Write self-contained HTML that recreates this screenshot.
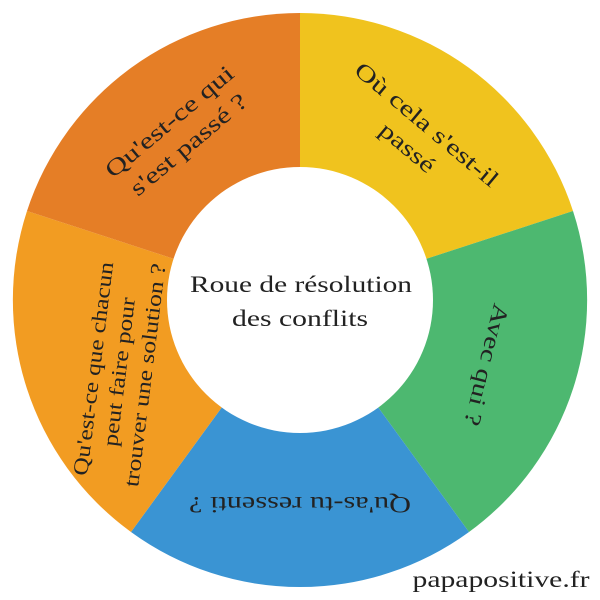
<!DOCTYPE html>
<html><head><meta charset="utf-8"><style>
html,body{margin:0;padding:0;background:#fff;}
svg{display:block}
text{font-family:"Liberation Serif","DejaVu Serif",serif;fill:#222;}
</style></head><body>
<svg width="600" height="600" viewBox="0 0 600 600" xmlns="http://www.w3.org/2000/svg">
<g>
<path d="M300,300 L300,13 A287,287 0 0 1 573,211 Z" fill="#F0C31E"/>
<path d="M300,300 L573,211 A287,287 0 0 1 469,532 Z" fill="#4DB870"/>
<path d="M300,300 L469,532 A287,287 0 0 1 131,532 Z" fill="#3A94D3"/>
<path d="M300,300 L131,532 A287,287 0 0 1 27,211 Z" fill="#F29C22"/>
<path d="M300,300 L27,211 A287,287 0 0 1 300,13 Z" fill="#E57E26"/>
<circle cx="300" cy="300" r="133" fill="#fff"/>
</g>
<g font-size="23" text-anchor="middle" lengthAdjust="spacingAndGlyphs">
<g transform="translate(178,132) rotate(-40)">
<text x="0" y="-6" textLength="160" lengthAdjust="spacingAndGlyphs">Qu'est-ce qui</text>
<text x="0" y="24" textLength="145" lengthAdjust="spacingAndGlyphs">s'est passé ?</text>
</g>
<g transform="translate(418,135) rotate(40)">
<text x="0" y="-6" textLength="180" lengthAdjust="spacingAndGlyphs">Où cela s'est-il</text>
<text x="0" y="24" textLength="65" lengthAdjust="spacingAndGlyphs">passé</text>
</g>
<g transform="translate(487,365) rotate(104)">
<text x="0" y="8" textLength="125" lengthAdjust="spacingAndGlyphs">Avec qui ?</text>
</g>
<g transform="translate(300,505) rotate(180)">
<text x="0" y="8" textLength="222" lengthAdjust="spacingAndGlyphs">Qu'as-tu ressenti ?</text>
</g>
<g transform="translate(120,372) rotate(-83)" font-size="21">
<text x="0" y="-20" textLength="215" lengthAdjust="spacingAndGlyphs">Qu'est-ce que chacun</text>
<text x="0" y="6" textLength="150" lengthAdjust="spacingAndGlyphs">peut faire pour</text>
<text x="0" y="32" textLength="225" lengthAdjust="spacingAndGlyphs">trouver une solution ?</text>
</g>
<text x="301" y="292" textLength="222" lengthAdjust="spacingAndGlyphs">Roue de résolution</text>
<text x="300" y="326" textLength="136" lengthAdjust="spacingAndGlyphs">des conflits</text>
<text x="501" y="587" textLength="177" lengthAdjust="spacingAndGlyphs">papapositive.fr</text>
</g>
</svg>
</body></html>
